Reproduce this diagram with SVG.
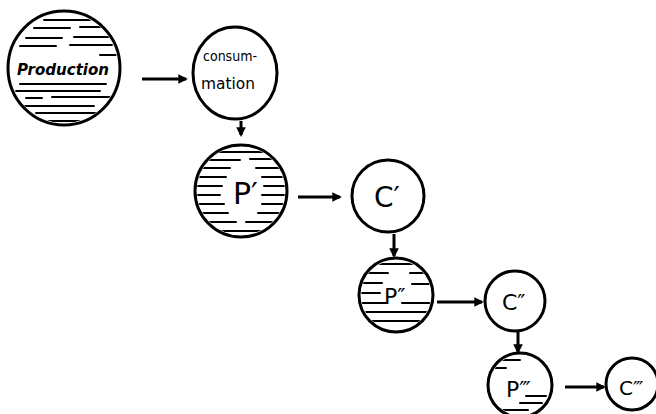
<svg xmlns="http://www.w3.org/2000/svg" width="656" height="414" viewBox="0 0 656 414">
  <style>
    .ring { fill: #fff; stroke: #000; stroke-width: 3; }
    .hatch { fill: none; stroke: #000; stroke-width: 2; stroke-linecap: round; }
    .label { font-family: "DejaVu Sans", "Liberation Sans", sans-serif; fill: #000; }
    .edge { fill: none; stroke: #000; stroke-width: 3; }
  </style>
  <defs>
    <marker id="head" viewBox="0 0 10 10" refX="8" refY="5" markerWidth="3.2" markerHeight="3.2" orient="auto">
      <path d="M0,0 L10,5 L0,10 Z" fill="#000"/>
    </marker>
    <clipPath id="clipProd"><ellipse cx="64" cy="68" rx="54" ry="55"/></clipPath>
    <clipPath id="clipP1"><circle cx="241" cy="191" r="44"/></clipPath>
    <clipPath id="clipP2"><circle cx="396" cy="295" r="35"/></clipPath>
    <clipPath id="clipP3"><circle cx="520" cy="385" r="30"/></clipPath>
  </defs>

  <!-- Production -->
  <g id="production">
    <ellipse class="ring" cx="64" cy="68" rx="56" ry="57"/>
    <g clip-path="url(#clipProd)" class="hatch">
      <path d="M44,20 H90 M34,28 H70 M80,27 H104 M26,38 H62 M74,37 H110 M20,46 H56 M70,45 H112 M100,55 H116"/>
      <path d="M20,84 H106 M16,91 H100 M26,98 H42 M52,97 H112 M22,106 H94 M36,113 H104 M48,121 H86"/>
    </g>
    <text class="label" x="17" y="75" font-size="16" font-style="italic" font-weight="bold" textLength="92" lengthAdjust="spacingAndGlyphs">Production</text>
  </g>

  <!-- consumption -->
  <g id="consumption">
    <ellipse class="ring" cx="235" cy="73" rx="42" ry="46"/>
    <text class="label" x="203" y="61" font-size="14" textLength="54" lengthAdjust="spacingAndGlyphs">consum-</text>
    <text class="label" x="201" y="89" font-size="15" textLength="54" lengthAdjust="spacingAndGlyphs">mation</text>
  </g>

  <!-- P' -->
  <g id="p1">
    <circle class="ring" cx="241" cy="191" r="46"/>
    <g clip-path="url(#clipP1)" class="hatch">
      <path d="M214,152 H270 M202,160 H240 M250,159 H284 M196,168 H230 M256,168 H288 M196,177 H226 M262,177 H290 M196,186 H222 M264,186 H290 M196,195 H220 M262,195 H290 M196,204 H224 M262,204 H290 M200,213 H228 M258,213 H288 M206,222 H236 M246,222 H282 M214,231 H270"/>
    </g>
    <text class="label" x="233" y="204" font-size="30">P′</text>
  </g>

  <!-- C' -->
  <g id="c1">
    <circle class="ring" cx="388" cy="196" r="36"/>
    <text class="label" x="374" y="207" font-size="28">C′</text>
  </g>

  <!-- P'' -->
  <g id="p2">
    <circle class="ring" cx="396" cy="295" r="37"/>
    <g clip-path="url(#clipP2)" class="hatch">
      <path d="M378,264 H414 M366,273 H388 M410,273 H428 M362,283 H382 M412,284 H432 M362,293 H380 M362,303 H386 M402,303 H432 M366,312 H430 M372,321 H424"/>
    </g>
    <text class="label" x="384" y="304" font-size="22">P″</text>
  </g>

  <!-- C'' -->
  <g id="c2">
    <circle class="ring" cx="515" cy="301" r="30"/>
    <text class="label" x="502" y="310" font-size="22">C″</text>
  </g>

  <!-- P''' -->
  <g id="p3">
    <circle class="ring" cx="520" cy="385" r="32"/>
    <g clip-path="url(#clipP3)" class="hatch">
      <path d="M500,360 H520 M494,368 H506 M526,396 H546 M520,403 H542 M500,410 H528"/>
    </g>
    <text class="label" x="506" y="397" font-size="22">P‴</text>
  </g>

  <!-- C''' -->
  <g id="c3">
    <circle class="ring" cx="632" cy="384" r="26"/>
    <text class="label" x="619" y="395" font-size="20">C‴</text>
  </g>

  <!-- connectors -->
  <g id="connectors">
    <path class="edge" d="M142,79 H186" marker-end="url(#head)"/>
    <path class="edge" d="M241,121 V135" marker-end="url(#head)"/>
    <path class="edge" d="M298,197 H340" marker-end="url(#head)"/>
    <path class="edge" d="M394,234 V256" stroke-width="2" marker-end="url(#head)"/>
    <path class="edge" d="M437,302 H482" stroke-width="2.4" marker-end="url(#head)"/>
    <path class="edge" d="M518,331 V352" stroke-width="2" marker-end="url(#head)"/>
    <path class="edge" d="M565,387 H604" stroke-width="2.4" marker-end="url(#head)"/>
  </g>
</svg>
